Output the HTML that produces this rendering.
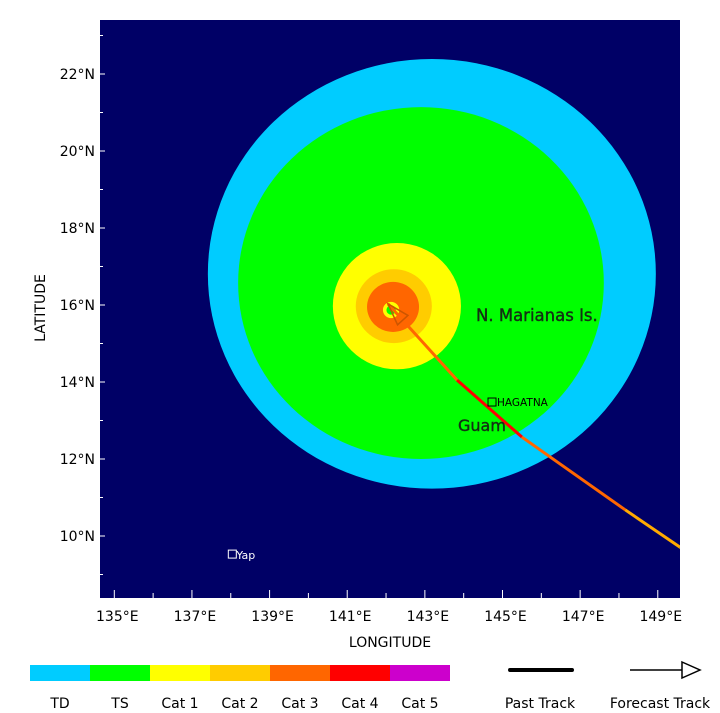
<!DOCTYPE html>
<html><head><meta charset="utf-8"><style>
body{margin:0;background:#fff;width:720px;height:709px;overflow:hidden;font-family:"DejaVu Sans","Liberation Sans",sans-serif}
svg text{font-family:"DejaVu Sans","Liberation Sans",sans-serif}
</style></head><body>
<svg id="c" width="720" height="709" xmlns="http://www.w3.org/2000/svg">
<defs><clipPath id="pc"><rect x="100" y="20" width="580" height="578"/></clipPath></defs>
<rect x="100" y="20" width="580" height="578" fill="#000066"/>
<g id="plot" clip-path="url(#pc)"></g>
<g id="axes"></g>
<text x="390" y="647" text-anchor="middle" font-size="14" fill="#000">LONGITUDE</text>
<text x="45" y="308" text-anchor="middle" font-size="14" fill="#000" transform="rotate(-90 45 308)">LATITUDE</text>
<g id="legend"></g>
<line x1="510" y1="670" x2="572" y2="670" stroke="#000" stroke-width="4" stroke-linecap="round"/>
<text x="540" y="708" text-anchor="middle" font-size="14">Past Track</text>
<g><line x1="630" y1="670" x2="682" y2="670" stroke="#000" stroke-width="1.5"/><polygon points="682,662 700,670 682,678" fill="#fff" stroke="#000" stroke-width="1.5"/></g>
<text x="660" y="708" text-anchor="middle" font-size="14">Forecast Track</text>
</svg>
<script>
const ringLon=[143.18,142.90,142.28,142.20,142.18,142.13,142.13];
const ringLat=[16.81,16.57,15.97,15.97,15.95,15.87,15.87];
const ringRx=[5.77,4.71,1.65,0.98,0.67,0.21,0.12];
const ringRy=[5.58,4.57,1.64,0.96,0.65,0.21,0.12];
const ringColor=["#00ccff","#00ff00","#ffff00","#ffcc00","#ff6600","#ffff00","#00ff00"];
const trackLon=[142.05,143.83,145.50,148.16,149.57,150.5];
const trackLat=[16.03,14.05,12.57,10.68,9.71,9.2];
const trackColor=["#ff6600","#ff0000","#ff6600","#ffaa00","#ffcc00"];
const lonTicks=[135,137,139,141,143,145,147,149];
const latTicks=[10,12,14,16,18,20,22];
const legendCats=["TD","TS","Cat 1","Cat 2","Cat 3","Cat 4","Cat 5"];
const legendColors=["#00ccff","#00ff00","#ffff00","#ffcc00","#ff6600","#ff0000","#cc00cc"];
const NS="http://www.w3.org/2000/svg";
const X=lon=>114.3+(lon-135)*38.82;
const Y=lat=>305-(lat-16)*38.5;
const sx=d=>d*38.82, sy=d=>d*38.5;
function mk(t,a,p){const e=document.createElementNS(NS,t);for(const k in a)e.setAttribute(k,a[k]);p.appendChild(e);return e;}
const plot=document.getElementById('plot'),axes=document.getElementById('axes'),leg=document.getElementById('legend');
for(let i=0;i<ringLon.length;i++){
 const e=mk('ellipse',{cx:X(ringLon[i]),cy:Y(ringLat[i]),rx:sx(ringRx[i]),ry:sy(ringRy[i]),fill:ringColor[i]},plot);
 
 
}
for(let i=0;i<trackColor.length;i++){
 const l=mk('line',{x1:X(trackLon[i]),y1:Y(trackLat[i]),x2:X(trackLon[i+1]),y2:Y(trackLat[i+1]),stroke:trackColor[i],'stroke-width':3},plot);
 
 
}
(function(){const x0=X(trackLon[0]),y0=Y(trackLat[0]),x1=X(trackLon[1]),y1=Y(trackLat[1]);
const a=Math.atan2(y1-y0,x1-x0),L=22,W=7;const bx=x0+Math.cos(a)*L,by=y0+Math.sin(a)*L;
const px=-Math.sin(a)*W,py=Math.cos(a)*W;
const p=mk('polygon',{points:`${x0},${y0} ${bx+px},${by+py} ${bx-px},${by-py}`,fill:'none',stroke:'#cc5500','stroke-width':1.5},plot);

})();
const hx=X(144.73),hy=Y(13.48);
let r=mk('rect',{x:hx-4,y:hy-4,width:8,height:8,fill:'none',stroke:'#000'},plot);


let t=mk('text',{x:hx+5,y:hy+4,'font-size':10.5,fill:'#000'},plot);t.textContent='HAGATNA';


const yx=X(138.04),yy=Y(9.53);
r=mk('rect',{x:yx-4,y:yy-4,width:8,height:8,fill:'none',stroke:'#fff'},plot);


t=mk('text',{x:yx+4,y:yy+5,'font-size':11,fill:'#fff'},plot);t.textContent='Yap';


t=mk('text',{x:476,y:321,'font-size':16.5,fill:'#143014',stroke:'#143014','stroke-width':0.4},plot);t.textContent='N. Marianas Is.';


t=mk('text',{x:458,y:431,'font-size':16,fill:'#143014',stroke:'#143014','stroke-width':0.4},plot);t.textContent='Guam';


for(let lon=135;lon<=149;lon++){const x=X(lon),len=lon%2?8:5;
 const l=mk('line',{x1:x,y1:598,x2:x,y2:598-len,stroke:'#fff'},axes);
 
 }
for(let lat=9;lat<=23;lat++){const y=Y(lat),len=lat%2?3:5;
 const l=mk('line',{x1:100,y1:y,x2:100+len,y2:y,stroke:'#fff'},axes);
 
 }
lonTicks.forEach(v=>{const e=mk('text',{x:X(v)+3,y:621,'text-anchor':'middle','font-size':14},axes);e.textContent=v+'°E';
 
 });
latTicks.forEach(v=>{const e=mk('text',{x:95,y:Y(v)+5,'text-anchor':'end','font-size':14},axes);e.textContent=v+'°N';
 
 });
legendCats.forEach((c,i)=>{const x=30+i*60;
 const b=mk('rect',{x:x,y:665,width:60,height:16,fill:legendColors[i]},leg);
 
 
 const e=mk('text',{x:x+30,y:708,'text-anchor':'middle','font-size':14},leg);e.textContent=c;
 
 });
</script>
</body></html>
